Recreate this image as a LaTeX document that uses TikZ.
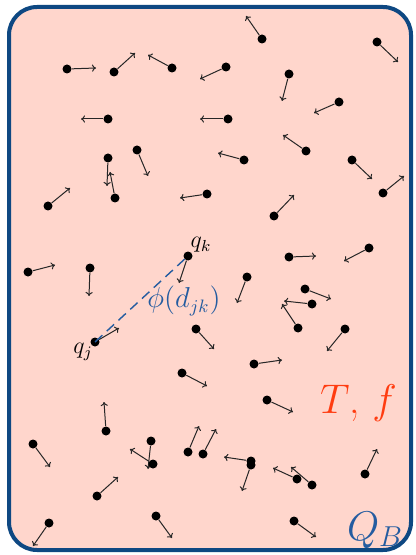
\documentclass[tikz,border=0pt]{standalone}
\usepackage{amsmath,amssymb}
\usepackage{xcolor}
\usepackage{tikz}
\usetikzlibrary{arrows.meta}
\definecolor{boxfill}{RGB}{255,214,204}
\definecolor{boxblue}{RGB}{14,72,130}
\definecolor{labred}{RGB}{255,60,16}
\definecolor{labblue}{RGB}{36,92,160}

\begin{document}
\begin{tikzpicture}[
  x=0.5pt, y=-0.5pt,
  particle/.style={circle, fill=black, inner sep=0pt, minimum size=4.5pt},
  vel/.style={-{To[length=2pt, width=3.6pt]}, line width=0.5pt, color=black!85},
  bond/.style={dash pattern=on 5pt off 3pt, line width=0.7pt, color=labblue},
  qlabel/.style={font=\large},
  biglabel/.style={font=\huge, anchor=base west}
]
  \useasboundingbox (0,0) rectangle (416,555);

  % Container
  \draw[boxblue, line width=2pt, fill=boxfill, rounded corners=14pt]
       (9,7) rectangle (411,550);

  % Particles: position / velocity tip
  \foreach \px/\py/\tx/\ty [count=\i] in {
      262/39/246/16, 377/42/398/62, 67/69/96/68, 114/72/135/53,
      172/68/148/55, 226/67/200/79, 289/74/282/101, 339/102/314/113,
      108/119/81/119, 228/119/200/119, 137/150/148/176, 108/158/107/186,
      306/151/283/135, 244/160/218/153, 352/160/372/179, 383/193/404/176,
      48/206/70/188, 115/198/110/172, 207/194/180/198, 274/216/294/195,
      28/272/55/265, 90/268/89/296, 289/257/316/256, 369/248/344/261,
      247/277/237/303, 305/289/331/299, 312/304/284/301, 298/328/282/304,
      345/329/327/351, 196/329/214/349, 254/364/282/360, 182/373/207/386,
      267/400/293/412, 106/431/104/402, 33/444/50/467, 151/441/148/469,
      153/464/130/449, 188/452/199/426, 203/454/216/429, 251/461/224/457,
      251/465/242/491, 297/479/273/468, 312/485/291/467, 365/474/377/449,
      97/496/118/477, 49/523/33/546, 156/516/172/538, 294/521/316/537}
  {
    \node[particle] (p\i) at (\px,\py) {};
    \coordinate (v\i) at (\tx,\ty);
    \draw[vel] (p\i) -- (v\i);
  }

  % Interacting pair
  \node[particle] (qk) at (188,256) {};
  \coordinate (vk) at (179,283);
  \draw[vel] (qk) -- (vk);
  \node[particle] (qj) at (95,342) {};
  \coordinate (vj) at (119,328);
  \draw[vel] (qj) -- (vj);
  \draw[bond] (qj.center) -- (qk.center);

  % Labels
  \node[qlabel] (lqk) at (201,245) {$q_k$};
  \node[qlabel] (lqj) at (83,352) {$q_j$};
  \node[font=\fontsize{13.5}{16}\selectfont, color=labblue] (lphi) at (184,301) {$\phi(d_{jk})$};
  \node[biglabel, color=labred] (ltf) at (313,413) {$T$, $f$};
  \node[biglabel, color=labblue] (lqb) at (340,540) {$Q_B$};
\end{tikzpicture}
\end{document}
